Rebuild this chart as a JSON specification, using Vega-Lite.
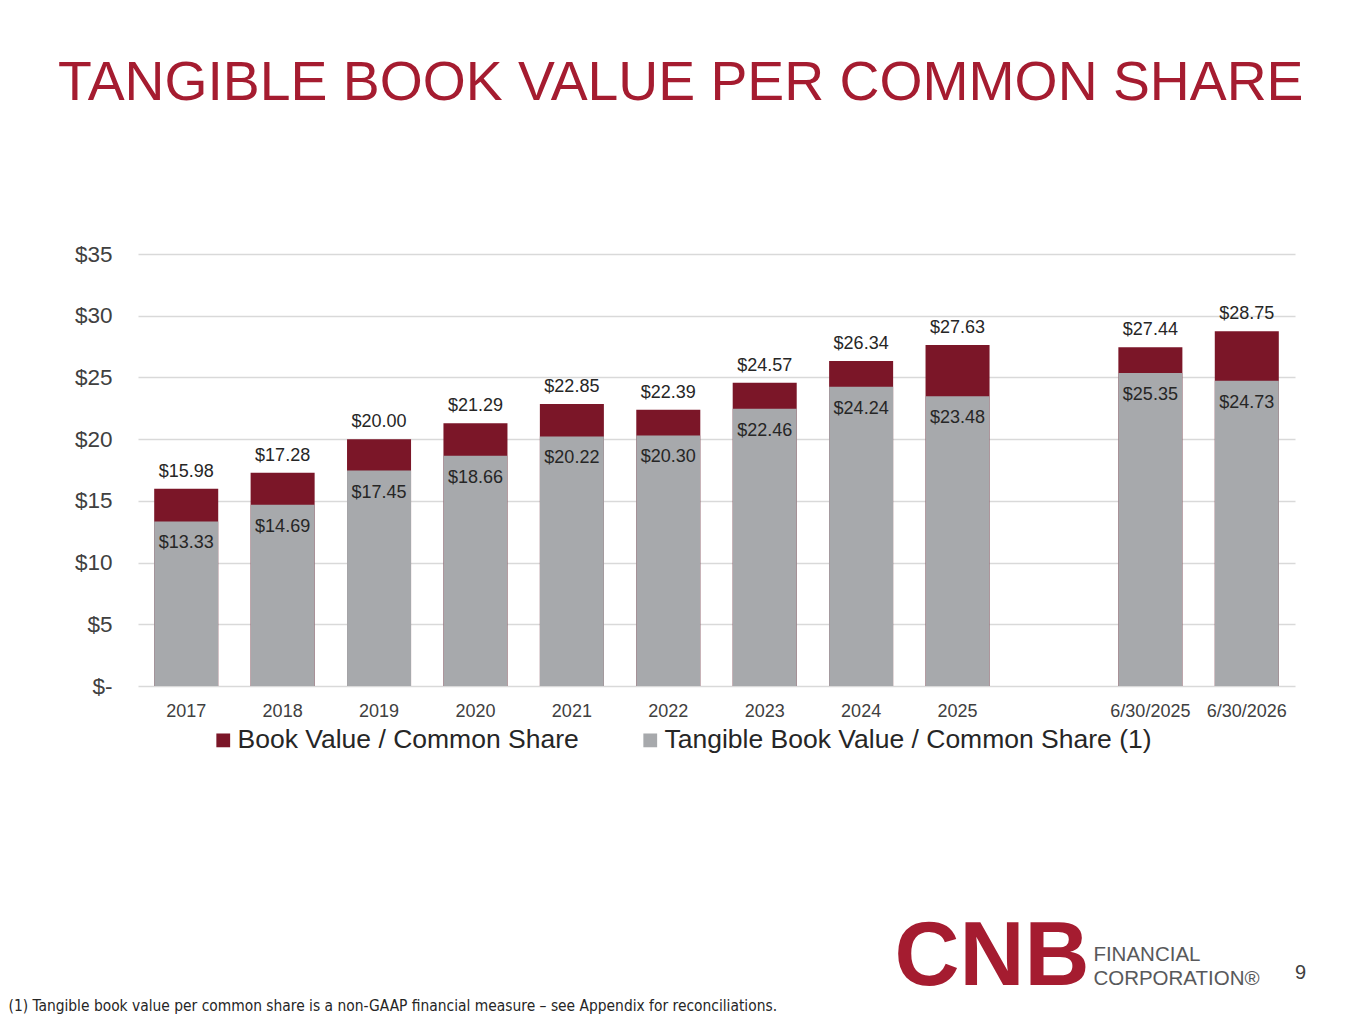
{
  "$schema": "https://vega.github.io/schema/vega-lite/v6.json",
  "width": 1157,
  "height": 432,
  "autosize": {"type": "none"},
  "padding": {"left": 138, "top": 254, "right": 70, "bottom": 338},
  "background": "white",
  "config": {"font": "Liberation Sans", "view": {"stroke": null}},
  "title": {
    "text": "TANGIBLE BOOK VALUE PER COMMON SHARE",
    "anchor": "start",
    "frame": "group",
    "dx": -80,
    "offset": 132,
    "fontSize": 55.3,
    "fontWeight": "normal",
    "color": "#A51C30"
  },
  "data": {
    "values": [
      {"period": "2017", "series": "Book Value / Common Share", "value": 15.98},
      {"period": "2018", "series": "Book Value / Common Share", "value": 17.28},
      {"period": "2019", "series": "Book Value / Common Share", "value": 20.00},
      {"period": "2020", "series": "Book Value / Common Share", "value": 21.29},
      {"period": "2021", "series": "Book Value / Common Share", "value": 22.85},
      {"period": "2022", "series": "Book Value / Common Share", "value": 22.39},
      {"period": "2023", "series": "Book Value / Common Share", "value": 24.57},
      {"period": "2024", "series": "Book Value / Common Share", "value": 26.34},
      {"period": "2025", "series": "Book Value / Common Share", "value": 27.63},
      {"period": "6/30/2025", "series": "Book Value / Common Share", "value": 27.44},
      {"period": "6/30/2026", "series": "Book Value / Common Share", "value": 28.75},
      {"period": "2017", "series": "Tangible Book Value / Common Share (1)", "value": 13.33},
      {"period": "2018", "series": "Tangible Book Value / Common Share (1)", "value": 14.69},
      {"period": "2019", "series": "Tangible Book Value / Common Share (1)", "value": 17.45},
      {"period": "2020", "series": "Tangible Book Value / Common Share (1)", "value": 18.66},
      {"period": "2021", "series": "Tangible Book Value / Common Share (1)", "value": 20.22},
      {"period": "2022", "series": "Tangible Book Value / Common Share (1)", "value": 20.30},
      {"period": "2023", "series": "Tangible Book Value / Common Share (1)", "value": 22.46},
      {"period": "2024", "series": "Tangible Book Value / Common Share (1)", "value": 24.24},
      {"period": "2025", "series": "Tangible Book Value / Common Share (1)", "value": 23.48},
      {"period": "6/30/2025", "series": "Tangible Book Value / Common Share (1)", "value": 25.35},
      {"period": "6/30/2026", "series": "Tangible Book Value / Common Share (1)", "value": 24.73}
    ]
  },
  "encoding": {
    "x": {
      "field": "period",
      "type": "nominal",
      "sort": null,
      "scale": {
        "domain": ["2017", "2018", "2019", "2020", "2021", "2022", "2023", "2024", "2025", " ", "6/30/2025", "6/30/2026"],
        "paddingInner": 0.336,
        "paddingOuter": 0.168
      },
      "axis": {
        "title": "(1) Tangible book value per common share is a non-GAAP financial measure – see Appendix for reconciliations.",
        "labelAngle": 0,
        "labelFontSize": 18,
        "labelColor": "#404040",
        "labelPadding": 16,
        "ticks": false,
        "domain": false,
        "titleX": -130,
        "titleY": 324,
        "titleAlign": "left",
        "titleBaseline": "alphabetic",
        "titleFontSize": 15.4,
        "titleFontWeight": "normal",
        "titleColor": "#262626",
        "titleFont": "DejaVu Sans Condensed, Liberation Sans",
        "titleLimit": 1000
      }
    },
    "y": {
      "field": "value",
      "type": "quantitative",
      "stack": null,
      "scale": {"domain": [0, 35]},
      "axis": {
        "values": [0, 5, 10, 15, 20, 25, 30, 35],
        "labelExpr": "datum.value === 0 ? '$-' : '$' + datum.value",
        "labelFontSize": 22.5,
        "labelColor": "#404040",
        "labelPadding": 26,
        "ticks": false,
        "domain": false,
        "gridColor": "#D9D9D9",
        "gridWidth": 1.3,
        "title": "9",
        "titleAngle": 0,
        "titleX": 1162,
        "titleY": 724,
        "titleAlign": "center",
        "titleBaseline": "alphabetic",
        "titleFontSize": 20,
        "titleFontWeight": "normal",
        "titleColor": "#404040"
      }
    }
  },
  "layer": [
    {
      "mark": {"type": "bar"},
      "encoding": {
        "color": {
          "field": "series",
          "type": "nominal",
          "scale": {
            "domain": ["Book Value / Common Share", "Tangible Book Value / Common Share (1)"],
            "range": ["#7B1628", "#A7A9AC"]
          },
          "legend": {
            "orient": "none",
            "legendX": 72,
            "legendY": 473,
            "direction": "horizontal",
            "title": null,
            "symbolType": "square",
            "symbolSize": 190,
            "symbolStrokeWidth": 0,
            "labelFontSize": 26.5,
            "labelColor": "#262626",
            "labelOffset": 1,
            "labelLimit": 800,
            "columnPadding": 58
          }
        }
      }
    },
    {
      "transform": [{"filter": "datum.series === 'Book Value / Common Share'"}],
      "mark": {"type": "text", "baseline": "bottom", "dy": -8, "fontSize": 18, "color": "#262626"},
      "encoding": {"text": {"field": "value", "type": "quantitative", "format": "$.2f"}}
    },
    {
      "transform": [{"filter": "datum.series !== 'Book Value / Common Share'"}],
      "mark": {"type": "text", "baseline": "top", "dy": 13, "fontSize": 18, "color": "#262626"},
      "encoding": {"text": {"field": "value", "type": "quantitative", "format": "$.2f"}}
    },
    {
      "transform": [{"filter": "datum.period === '2025' && datum.series === 'Book Value / Common Share'"}],
      "mark": {"type": "text", "clip": false, "align": "left", "baseline": "alphabetic", "dx": -63, "dy": 299, "fontSize": 90, "fontWeight": "bold", "color": "#A51C30", "text": "CNB"},
      "encoding": {
        "x": {"datum": "2025", "type": "nominal"},
        "y": {"datum": 0, "type": "quantitative"},
        "text": null
      }
    },
    {
      "transform": [{"filter": "datum.period === '2025' && datum.series === 'Book Value / Common Share'"}],
      "mark": {"type": "text", "clip": false, "align": "left", "baseline": "alphabetic", "dx": -57, "dy": 275, "fontSize": 20.5, "color": "#58595B", "text": "FINANCIAL"},
      "encoding": {
        "x": {"datum": "6/30/2025", "type": "nominal"},
        "y": {"datum": 0, "type": "quantitative"},
        "text": null
      }
    },
    {
      "transform": [{"filter": "datum.period === '2025' && datum.series === 'Book Value / Common Share'"}],
      "mark": {"type": "text", "clip": false, "align": "left", "baseline": "alphabetic", "dx": -57, "dy": 299, "fontSize": 20.5, "color": "#58595B", "text": "CORPORATION®"},
      "encoding": {
        "x": {"datum": "6/30/2025", "type": "nominal"},
        "y": {"datum": 0, "type": "quantitative"},
        "text": null
      }
    }
  ]
}
